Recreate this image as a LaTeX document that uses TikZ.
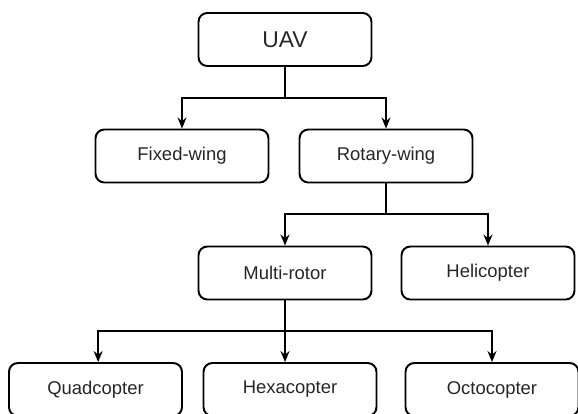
\documentclass[tikz,border=0pt]{standalone}
\usepackage{fontspec}
\setmainfont{Liberation Sans}
\usetikzlibrary{arrows.meta, positioning}

\begin{document}
\begin{tikzpicture}[
    x=0.02cm, y=-0.02cm,
    box/.style={rectangle, draw, rounded corners=5pt, line width=1.1pt, minimum width=3.46cm, minimum height=1.06cm, font=\fontsize{10.5}{12}\selectfont, text=black!85, align=center},
    arr/.style={-{Stealth[length=2.2mm, width=1.8mm]}, line width=1.1pt},
    link/.style={line width=1.1pt}
]
\useasboundingbox (0,0) rectangle (578,413);
\clip (0,0) rectangle (578,413);

\node[box, font=\fontsize{13}{15}\selectfont] (uav) at (285,39.5) {UAV};
\node[box] (fixed) at (182,156) {Fixed-wing};
\node[box] (rotary) at (386,156) {Rotary-wing};
\node[box] (multi) at (285,273) {Multi-rotor};
\node[box] (heli) at (488,273) {Helicopter};
\node[box] (quad) at (95.5,389.5) {Quadcopter};
\node[box] (hexa) at (290,389.5) {Hexacopter};
\node[box] (octo) at (492,389.5) {Octocopter};

% branch points
\coordinate (j1) at (285,98);
\coordinate (j2) at (386,214);
\coordinate (j3) at (285,331);

\draw[link] (uav.south) -- (j1);
\draw[arr] (j1) -| (fixed.north);
\draw[arr] (j1) -| (rotary.north);

\draw[link] (rotary.south) -- (j2);
\draw[arr] (j2) -| (multi.north);
\draw[arr] (j2) -| (heli.north);

\draw[link] (multi.south) -- (j3);
\draw[arr] (j3) -| ([xshift=1.5]quad.north);
\draw[arr] (j3) -- (j3 |- hexa.north);
\draw[arr] (j3) -| (octo.north);
\end{tikzpicture}
\end{document}
